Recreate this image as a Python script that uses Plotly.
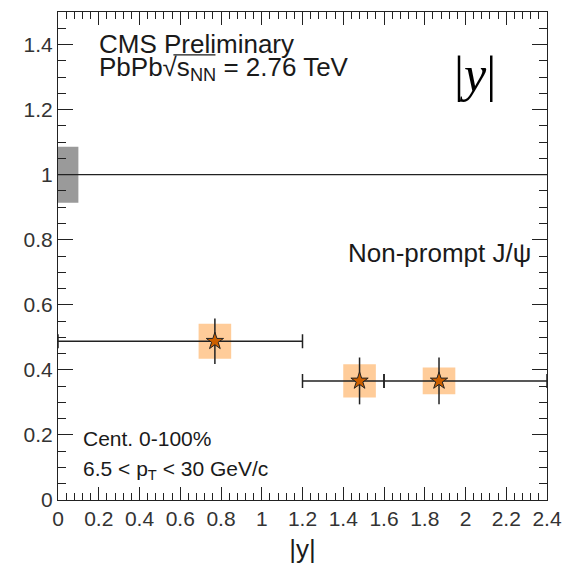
import plotly.graph_objects as go

# Rapidity bins and nuclear modification factor for non-prompt J/psi
bin_lo = [0.0, 1.2, 1.6]
bin_hi = [1.2, 1.6, 2.4]
y_mean = [0.77, 1.48, 1.87]
raa = [0.488, 0.366, 0.366]
stat_err = [0.070, 0.072, 0.072]
syst_err = [0.054, 0.051, 0.041]
syst_halfwidth = [0.08, 0.08, 0.08]

# Global uncertainty band at unity
global_unc = 0.086
global_box_width = 0.1

x_tickvals = [0, 0.2, 0.4, 0.6, 0.8, 1, 1.2, 1.4, 1.6, 1.8, 2, 2.2, 2.4]
x_ticktext = ["0", "0.2", "0.4", "0.6", "0.8", "1", "1.2", "1.4", "1.6", "1.8", "2", "2.2", "2.4"]
y_tickvals = [0, 0.2, 0.4, 0.6, 0.8, 1, 1.2, 1.4]
y_ticktext = ["0", "0.2", "0.4", "0.6", "0.8", "1", "1.2", "1.4"]

FONT = "Liberation Sans, Arial, sans-serif"
TXT = "#1a1a1a"
BOX = "#ffcc99"
STAR = "#cc5f00"

fig = go.Figure()

shapes = []
# global uncertainty
shapes.append(dict(type="rect", xref="x", yref="y", x0=0, x1=global_box_width,
                   y0=1 - global_unc, y1=1 + global_unc,
                   fillcolor="#9a9a9a", line=dict(width=0), layer="below"))
# unity line
shapes.append(dict(type="line", xref="x", yref="y", x0=0, x1=2.4, y0=1, y1=1,
                   line=dict(color="#222", width=1.2), layer="below"))
# systematic boxes
for xm, v, s, hw in zip(y_mean, raa, syst_err, syst_halfwidth):
    shapes.append(dict(type="rect", xref="x", yref="y", x0=xm - hw, x1=xm + hw,
                       y0=v - s, y1=v + s, fillcolor=BOX,
                       line=dict(width=0), layer="below"))
# overline of the square root sign
shapes.append(dict(type="line", xref="paper", yref="paper",
                   x0=0.236, x1=0.322, y0=0.912, y1=0.912,
                   line=dict(color=TXT, width=1.2)))

fig.add_trace(go.Scatter(
    x=y_mean, y=raa, mode="markers",
    marker=dict(symbol="star", size=13, color=STAR,
                line=dict(color="#222", width=1)),
    error_x=dict(type="data", symmetric=False,
                 array=[h - x for h, x in zip(bin_hi, y_mean)],
                 arrayminus=[x - l for l, x in zip(bin_lo, y_mean)],
                 color="#222", thickness=1.5, width=7),
    error_y=dict(type="data", array=stat_err, color="#222",
                 thickness=1.5, width=0),
    showlegend=False, cliponaxis=False,
))

axis_common = dict(
    showgrid=False, zeroline=False, showline=True, linecolor="#222",
    linewidth=1.2, mirror="ticks", ticks="inside", tickcolor="#222",
    tickwidth=1.2, tickfont=dict(family=FONT, size=21, color="#333"),
    automargin=False,
)

fig.update_xaxes(
    range=[0, 2.4], tickvals=x_tickvals, ticktext=x_ticktext, ticklen=13,
    minor=dict(dtick=0.04, tick0=0, ticklen=7, ticks="inside",
               tickcolor="#222", tickwidth=1.2),
    title=dict(text="|y|", font=dict(family=FONT, size=26, color=TXT),
               standoff=10),
    **axis_common,
)
fig.update_yaxes(
    range=[0, 1.5], tickvals=y_tickvals, ticktext=y_ticktext, ticklen=15,
    minor=dict(dtick=0.05, tick0=0, ticklen=8, ticks="inside",
               tickcolor="#222", tickwidth=1.2),
    **axis_common,
)

annotations = [
    dict(text="CMS Preliminary", x=0.08, y=0.969, size=26),
    dict(text="PbPb√s<sub>NN</sub> = 2.76 TeV", x=0.08, y=0.923, size=26),
    dict(text="Non-prompt J/ψ", x=0.588, y=0.507, size=26, yanchor="middle"),
    dict(text="Cent. 0-100%", x=0.047, y=0.127, size=21, yanchor="middle"),
    dict(text="6.5 < p<sub>T</sub> < 30 GeV/c", x=0.047, y=0.062, size=21,
         yanchor="middle"),
]
for a in annotations:
    fig.add_annotation(
        text=a["text"], xref="paper", yref="paper", x=a["x"], y=a["y"],
        xanchor="left", yanchor=a.get("yanchor", "top"), showarrow=False,
        font=dict(family=FONT, size=a["size"], color=TXT),
    )
fig.add_annotation(
    text="|<i>y</i>|", xref="paper", yref="paper", x=0.853, y=0.872,
    xanchor="center", yanchor="middle", showarrow=False,
    font=dict(family="Liberation Serif, DejaVu Serif, serif", size=50, color="#000"),
)

fig.update_layout(
    width=564, height=570,
    margin=dict(l=58, r=17, t=12, b=70, autoexpand=False),
    paper_bgcolor="white", plot_bgcolor="white",
    shapes=shapes,
)

fig.write_html("out.html")
